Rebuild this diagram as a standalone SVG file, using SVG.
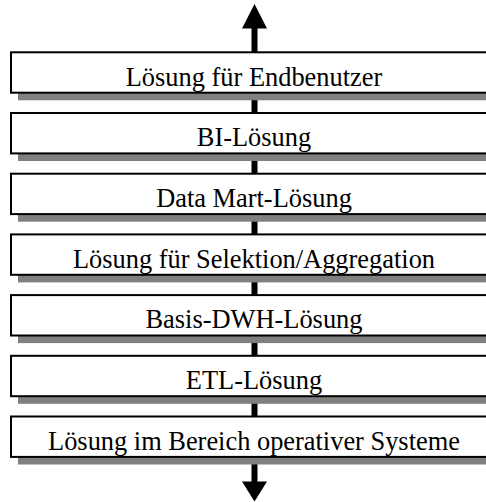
<svg xmlns="http://www.w3.org/2000/svg" width="486" height="502" viewBox="0 0 486 502">
<style>
.box{fill:#fff;stroke:#000;stroke-width:2}
.shadow{fill:#808080;stroke:none}
.lbl{font-family:"Liberation Serif","Times New Roman",serif;font-size:26.4px;fill:#000;text-anchor:middle}
.shaft{stroke:#000;stroke-width:6;fill:none}
.head{fill:#000}
</style>
<rect width="486" height="502" fill="#fff"/>
<g id="connectors">
<line class="shaft" x1="254.5" y1="26" x2="254.5" y2="53"/>
<polygon class="head" points="254.5,4 267,28.5 242,28.5"/>
<line class="shaft" x1="254.5" y1="99" x2="254.5" y2="114"/>
<line class="shaft" x1="254.5" y1="160" x2="254.5" y2="175"/>
<line class="shaft" x1="254.5" y1="220" x2="254.5" y2="235"/>
<line class="shaft" x1="254.5" y1="281" x2="254.5" y2="296"/>
<line class="shaft" x1="254.5" y1="342" x2="254.5" y2="357"/>
<line class="shaft" x1="254.5" y1="403" x2="254.5" y2="418"/>
<line class="shaft" x1="254.5" y1="463" x2="254.5" y2="484"/>
<polygon class="head" points="242,481.5 267,481.5 254.5,501.5"/>
</g>
<g id="n1"><rect class="shadow" x="18" y="60.3" width="480" height="40"/><rect class="box" x="11" y="52.3" width="490" height="40.4"/><text class="lbl" x="254" y="85.8">Lösung für Endbenutzer</text></g>
<g id="n2"><rect class="shadow" x="18" y="121" width="480" height="40"/><rect class="box" x="11" y="113" width="490" height="40.4"/><text class="lbl" x="254" y="146.3">BI-Lösung</text></g>
<g id="n3"><rect class="shadow" x="18" y="181.7" width="480" height="40"/><rect class="box" x="11" y="173.7" width="490" height="40.4"/><text class="lbl" x="254" y="207">Data Mart-Lösung</text></g>
<g id="n4"><rect class="shadow" x="18" y="242.4" width="480" height="40"/><rect class="box" x="11" y="234.4" width="490" height="40.4"/><text class="lbl" x="254" y="267.7">Lösung für Selektion/Aggregation</text></g>
<g id="n5"><rect class="shadow" x="18" y="303.1" width="480" height="40"/><rect class="box" x="11" y="295.1" width="490" height="40.4"/><text class="lbl" x="254" y="328.4">Basis-DWH-Lösung</text></g>
<g id="n6"><rect class="shadow" x="18" y="363.8" width="480" height="40"/><rect class="box" x="11" y="355.8" width="490" height="40.4"/><text class="lbl" x="254" y="389.1">ETL-Lösung</text></g>
<g id="n7"><rect class="shadow" x="18" y="424.5" width="480" height="40"/><rect class="box" x="11" y="416.5" width="490" height="40.4"/><text class="lbl" x="254" y="449.8">Lösung im Bereich operativer Systeme</text></g>
</svg>
